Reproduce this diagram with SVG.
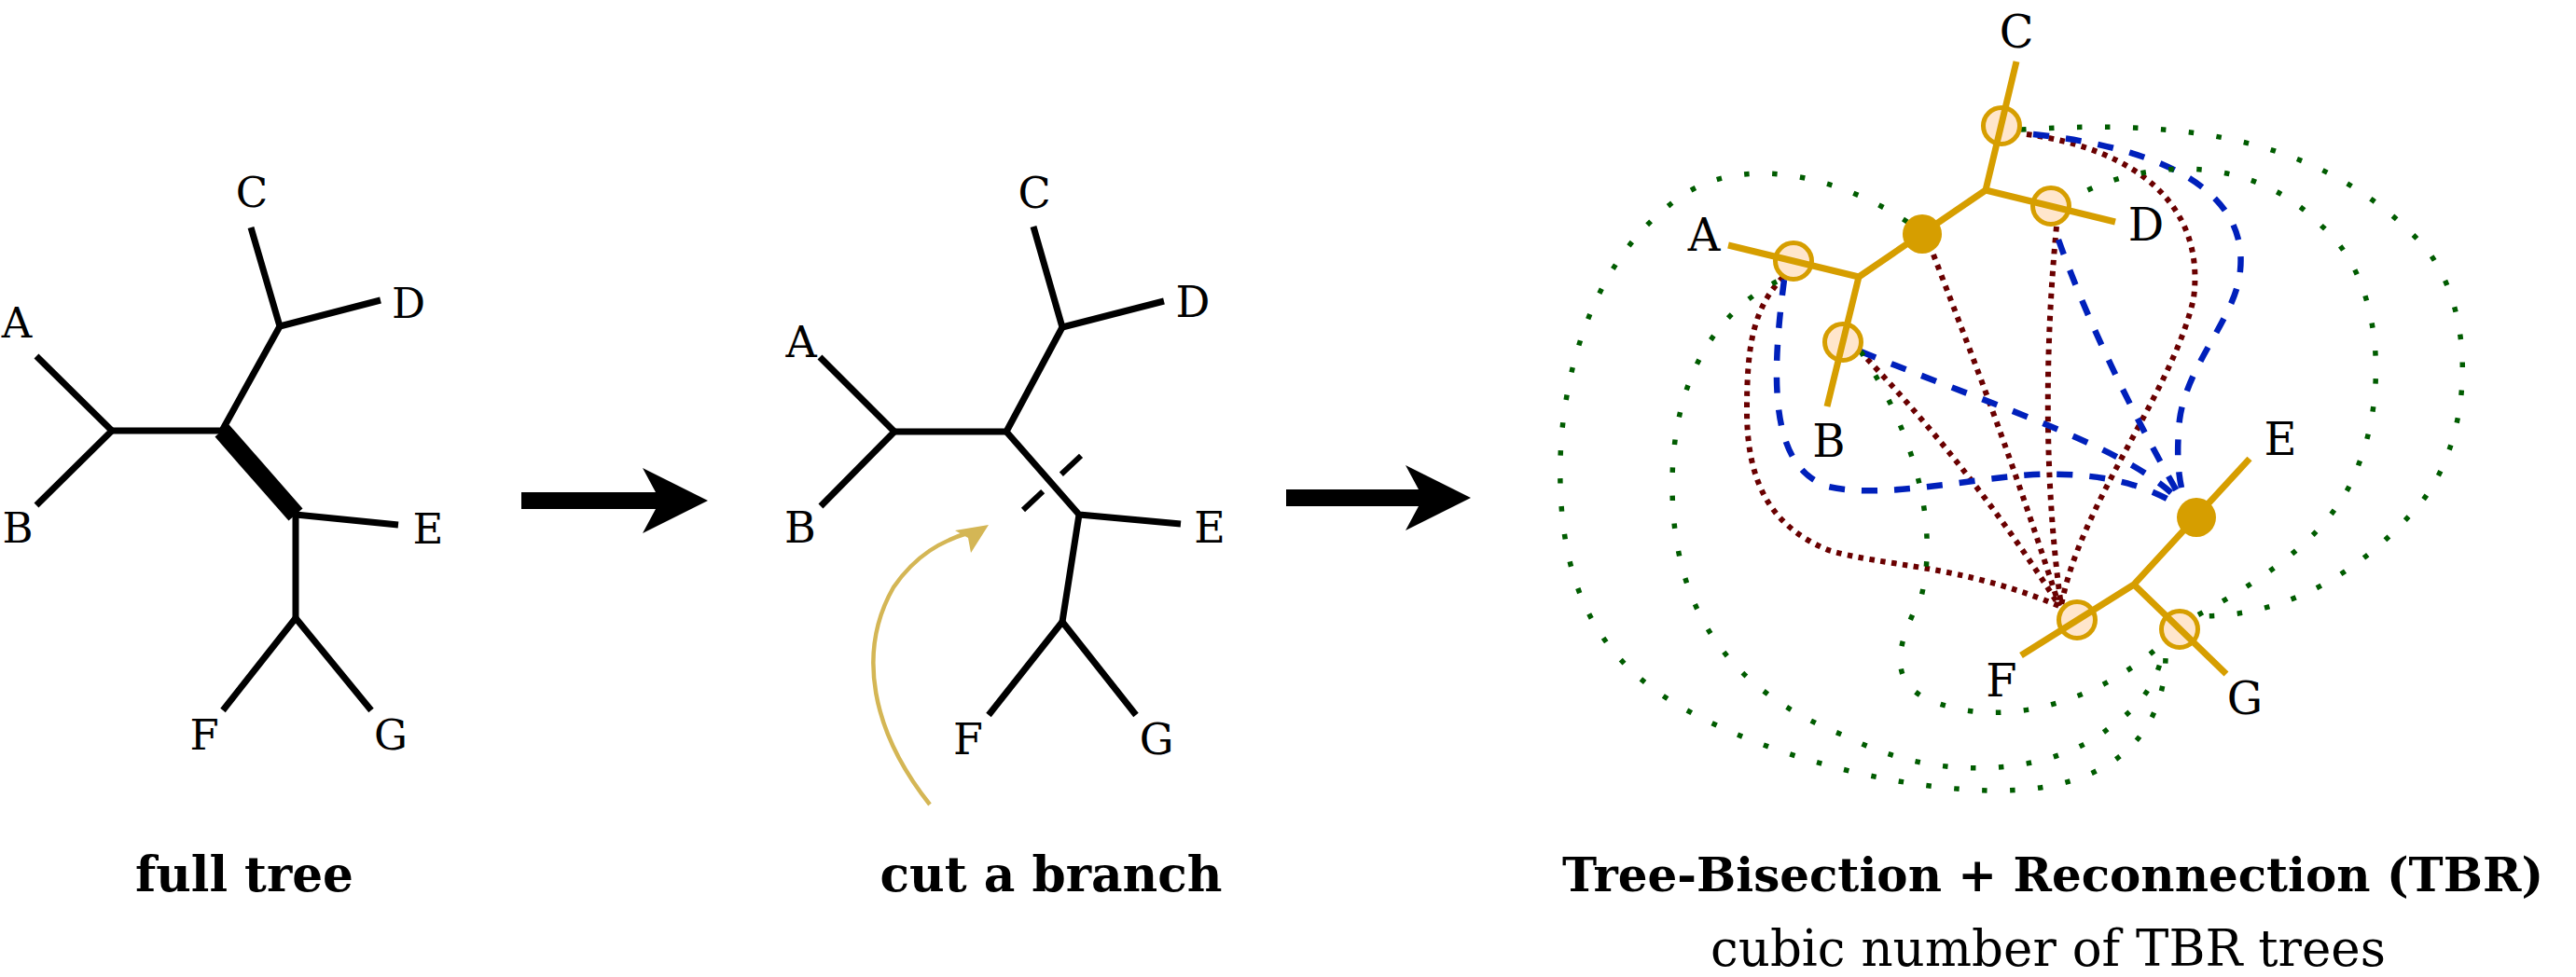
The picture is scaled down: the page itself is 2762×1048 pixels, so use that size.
<svg xmlns="http://www.w3.org/2000/svg" width="2762" height="1048" viewBox="0 0 2762 1048">
<style>
.edge{fill:none;stroke:#000;stroke-width:7;stroke-linejoin:round}
.thick{fill:none;stroke:#000;stroke-width:20}
.cut{fill:none;stroke:#000;stroke-width:6;stroke-dasharray:29 27}
.g{fill:none;stroke:#D69E00;stroke-width:7;stroke-linejoin:round}
.ring{fill:#FFE6CC;stroke:#D69E00;stroke-width:5}
.dot{fill:#D69E00}
.lab{font-family:"DejaVu Serif","Liberation Serif",serif;fill:#000;text-anchor:middle}
.l1{font-size:45px}
.l2{font-size:46px}
.l3{font-size:48px}
.title{font-family:"DejaVu Serif","Liberation Serif",serif;font-weight:bold;font-size:53px;fill:#000;text-anchor:middle}
.sub{font-family:"DejaVu Serif","Liberation Serif",serif;font-size:54px;fill:#000;text-anchor:middle}
.m{fill:none;stroke:#6A0000;stroke-width:6;stroke-dasharray:5.5 6.5}
.b{fill:none;stroke:#0020BB;stroke-width:6.5;stroke-dasharray:17 18}
.gr{fill:none;stroke:#005C00;stroke-width:5.5;stroke-dasharray:5.5 24.5}
.arrow{fill:#000}
</style>

<g id="tree1">
  <path class="edge" d="M39,382 L120,462 L39,542"/>
  <path class="edge" d="M120,462 L238,462 L300,350"/>
  <path class="edge" d="M269,244 L300,350 L408,322"/>
  <path class="edge" d="M317,552 L427,563"/>
  <path class="edge" d="M317,552 L317,663"/>
  <path class="edge" d="M239,762 L317,663 L398,762"/>
  <path class="thick" d="M238,462 L317,552"/>
  <g id="t1-labels" class="lab l1">
    <text x="18" y="362">A</text>
    <text x="19" y="582">B</text>
    <text x="270" y="222">C</text>
    <text x="438" y="341">D</text>
    <text x="459" y="583">E</text>
    <text x="219" y="804">F</text>
    <text x="419" y="804">G</text>
  </g>
</g>

<g id="arrow1">
  <polygon class="arrow" points="559,528 703,528 689,502 759,537 689,572 703,546 559,546"/>
</g>

<g id="tree2">
  <path class="edge" d="M879,383 L959,463 L880,543"/>
  <path class="edge" d="M959,463 L1079,463 L1139,351"/>
  <path class="edge" d="M1108,243 L1139,351 L1248,323"/>
  <path class="edge" d="M1079,463 L1157,552 L1266,562"/>
  <path class="edge" d="M1157,552 L1139,667"/>
  <path class="edge" d="M1060,767 L1139,667 L1218,767"/>
  <path class="cut" d="M1097,547 L1160,488"/>
  <g id="t2-labels" class="lab l2">
    <text x="859" y="383">A</text>
    <text x="858" y="582">B</text>
    <text x="1109" y="223">C</text>
    <text x="1279" y="340">D</text>
    <text x="1297" y="582">E</text>
    <text x="1038" y="809">F</text>
    <text x="1240" y="809">G</text>
  </g>
  <g id="cut-pointer">
    <path d="M997,863 C935,785 918,700 958,630 C982,595 1010,580 1040,571" fill="none" stroke="#D4B655" stroke-width="4.5"/>
    <polygon points="1060,563 1024,569 1038,577 1041,593" fill="#D4B655"/>
  </g>
</g>

<g id="arrow2">
  <polygon class="arrow" points="1379,525 1521,525 1507,499 1577,534 1507,569 1521,543 1379,543"/>
</g>

<g id="connectors">
  <g id="to-F">
    <path class="m" d="M1912,297 C1880,330 1873,370 1873,440 C1873,520 1900,565 1960,590 C2020,608 2100,605 2208,650"/>
    <path class="m" d="M2002,385 Q2120,510 2208,650"/>
    <path class="m" d="M2073,273 C2110,370 2150,470 2208,650"/>
    <path class="m" d="M2205,243 C2192,380 2192,520 2210,650"/>
    <path class="m" d="M2173,144 C2290,160 2365,220 2352,320 C2330,420 2230,540 2210,650"/>
  </g>
  <g id="to-E">
    <path class="b" d="M1913,300 C1900,400 1895,500 1960,522 C2020,535 2100,515 2180,509 C2250,506 2300,520 2332,540"/>
    <path class="b" d="M1995,377 C2150,440 2280,480 2335,535"/>
    <path class="b" d="M2207,257 C2240,350 2290,450 2337,532"/>
    <path class="b" d="M2180,144 C2330,160 2410,210 2402,290 C2398,340 2345,390 2337,450 C2333,490 2336,515 2342,535"/>
  </g>
  <g id="to-G">
    <path class="gr" d="M2167,139 C2340,128 2490,145 2600,265 C2660,340 2650,480 2590,546 C2520,625 2440,662 2356,661"/>
    <path class="gr" d="M2212,218 C2290,170 2410,160 2490,243 C2555,300 2560,420 2529,498 C2505,570 2430,620 2356,660"/>
    <path class="gr" d="M1995,377 C2050,460 2080,560 2060,640 C2035,690 2015,740 2090,758 C2160,778 2255,750 2322,687"/>
    <path class="gr" d="M1905,302 C1830,340 1793,420 1793,520 C1793,650 1850,740 1980,790 C2080,842 2200,830 2260,782 C2295,758 2310,735 2318,705"/>
    <path class="gr" d="M2045,238 C1970,188 1860,160 1790,220 C1700,290 1670,420 1673,520 C1676,640 1720,710 1800,757 C1900,815 2050,850 2150,848 C2250,846 2320,800 2322,705"/>
  </g>
</g>

<g id="tree3">
  <g id="rings">
    <circle class="ring" cx="1923" cy="280" r="19.5"/>
    <circle class="ring" cx="1976" cy="367" r="19.5"/>
    <circle class="ring" cx="2146" cy="135" r="19.5"/>
    <circle class="ring" cx="2199" cy="221" r="19.5"/>
    <circle class="ring" cx="2227" cy="665" r="19.5"/>
    <circle class="ring" cx="2337" cy="675" r="19.5"/>
  </g>
  <path class="g" d="M1853,263 L1993,297 L1959,436"/>
  <path class="g" d="M1993,297 L2129,204 L2162,66"/>
  <path class="g" d="M2129,204 L2268,238"/>
  <path class="g" d="M2412,492 L2288,627 L2167,703"/>
  <path class="g" d="M2288,627 L2387,723"/>
  <circle class="dot" cx="2061" cy="251" r="21"/>
  <circle class="dot" cx="2355" cy="555" r="21"/>
  <g id="t3-labels" class="lab l3">
    <text x="1827" y="269">A</text>
    <text x="1961" y="490">B</text>
    <text x="2162" y="51">C</text>
    <text x="2301" y="258">D</text>
    <text x="2445" y="488">E</text>
    <text x="2146" y="747">F</text>
    <text x="2407" y="766">G</text>
  </g>
</g>

<g id="captions">
  <text class="title" x="262" y="956" textLength="234" lengthAdjust="spacingAndGlyphs">full tree</text>
  <text class="title" x="1127" y="956" textLength="367" lengthAdjust="spacingAndGlyphs">cut a branch</text>
  <text class="title" x="2201" y="956" style="font-size:51px" textLength="1052" lengthAdjust="spacingAndGlyphs">Tree-Bisection + Reconnection (TBR)</text>
  <text class="sub" x="2196" y="1036" textLength="724" lengthAdjust="spacingAndGlyphs">cubic number of TBR trees</text>
</g>
</svg>
